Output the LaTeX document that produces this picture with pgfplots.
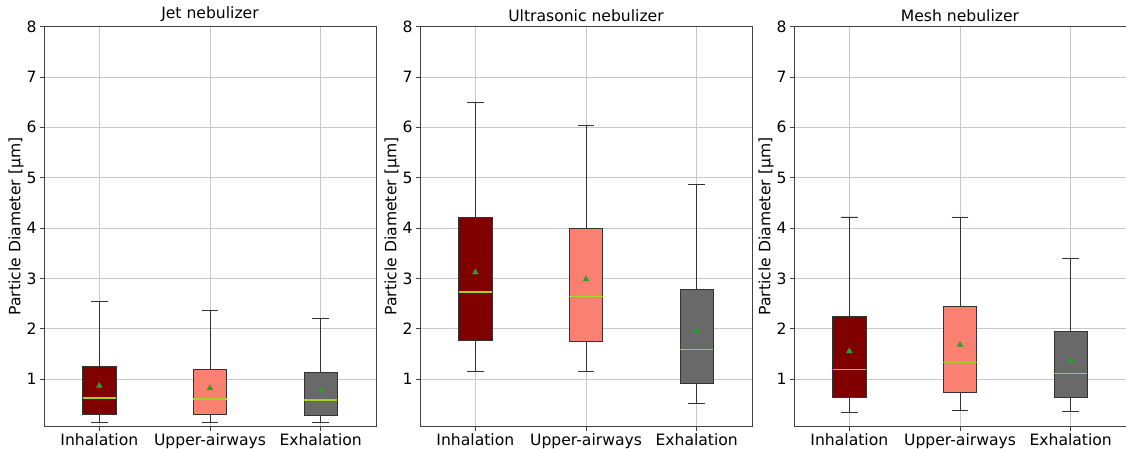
\documentclass[border=0pt]{standalone}
\usepackage{pgfplots}
\pgfplotsset{compat=1.18}
\usepgfplotslibrary{statistics}
\usepackage{fontspec}
\setmainfont{DejaVu Sans}

\definecolor{inhal}{RGB}{128,0,0}
\definecolor{upper}{RGB}{250,128,114}
\definecolor{exhal}{RGB}{105,105,105}
\definecolor{medcol}{RGB}{160,210,40}
\definecolor{meancol}{RGB}{44,160,44}
\definecolor{gridcol}{RGB}{200,200,200}

\newcommand{\fs}{\fontsize{15.6}{18}\selectfont}

\pgfplotsset{
  neb/.style={
    scale only axis, width=332pt, height=400pt, anchor=south west,
    xmin=0.5, xmax=3.5, ymin=0.06, ymax=8,
    xtick={1,2,3}, xticklabels={Inhalation,Upper-airways,Exhalation},
    ytick={1,2,3,4,5,6,7,8},
    xtick pos=bottom, ytick pos=left,
    grid=major, grid style={color=gridcol, line width=0.7pt},
    axis line style={black!75, line width=0.8pt},
    tick align=outside, major tick length=4pt,
    tick style={black!75, line width=0.7pt},
    /pgf/number format/assume math mode=true,
    ticklabel style={font=\fs},
    label style={font=\fs},
    title style={font=\fs, yshift=-5pt},
    ylabel={Particle Diameter [µm]},
    ylabel style={yshift=-4pt},
    boxplot/draw direction=y,
    boxplot/box extend=0.3,
    boxplot/whisker extend=0.15,
    boxplot/draw/median/.code={},   % medians are drawn as separate lines
  },
  medline/.style={draw=medcol, line width=1.3pt, forget plot},
  meanmark/.style={only marks, mark=triangle*, mark size=3.4pt,
    mark options={fill=meancol, draw=meancol}, forget plot},
}

% position, lower whisker, Q1, Q3, upper whisker, fill colour
\newcommand{\nbox}[6]{%
  \addplot[boxplot prepared={draw position=#1, lower whisker=#2,
      lower quartile=#3, upper quartile=#4, upper whisker=#5},
    fill=#6, draw=black!80, line width=0.7pt] coordinates {};%
}

\begin{document}
\begin{tikzpicture}
\path[use as bounding box] (0,0) rectangle (1126pt,448pt);

% Jet nebulizer
\begin{axis}[neb, at={(44pt,21.5pt)}, title={Jet nebulizer}]
  \nbox{1}{0.147}{0.306}{1.258}{2.547}{inhal}
  \nbox{2}{0.147}{0.306}{1.198}{2.368}{upper}
  \nbox{3}{0.147}{0.286}{1.139}{2.200}{exhal}
  % medians
  \addplot[medline] coordinates {(0.85,0.623) (1.15,0.623)};
  \addplot[medline] coordinates {(1.85,0.603) (2.15,0.603)};
  \addplot[medline] coordinates {(2.85,0.584) (3.15,0.584)};
  % means
  \addplot[meanmark] coordinates {(1,0.867) (2,0.820) (3,0.774)};
\end{axis}

% Ultrasonic nebulizer
\begin{axis}[neb, at={(420pt,21.5pt)}, title={Ultrasonic nebulizer}]
  \nbox{1}{1.152}{1.780}{4.219}{6.486}{inhal}
  \nbox{2}{1.152}{1.753}{3.994}{6.030}{upper}
  \nbox{3}{0.524}{0.921}{2.778}{4.866}{exhal}
  \addplot[medline] coordinates {(0.85,2.732) (1.15,2.732)};
  \addplot[medline] coordinates {(1.85,2.646) (2.15,2.646)};
  \addplot[medline] coordinates {(2.85,1.588) (3.15,1.588)};
  \addplot[meanmark] coordinates {(1,3.120) (2,2.983) (3,1.958)};
\end{axis}

% Mesh nebulizer
\begin{axis}[neb, at={(794pt,21.5pt)}, title={Mesh nebulizer}]
  \nbox{1}{0.339}{0.636}{2.243}{4.219}{inhal}
  \nbox{2}{0.385}{0.729}{2.447}{4.219}{upper}
  \nbox{3}{0.366}{0.636}{1.945}{3.393}{exhal}
  \addplot[medline] coordinates {(0.85,1.198) (1.15,1.198)};
  \addplot[medline] coordinates {(1.85,1.337) (2.15,1.337)};
  \addplot[medline] coordinates {(2.85,1.119) (3.15,1.119)};
  \addplot[meanmark] coordinates {(1,1.555) (2,1.681) (3,1.364)};
\end{axis}
\end{tikzpicture}
\end{document}
